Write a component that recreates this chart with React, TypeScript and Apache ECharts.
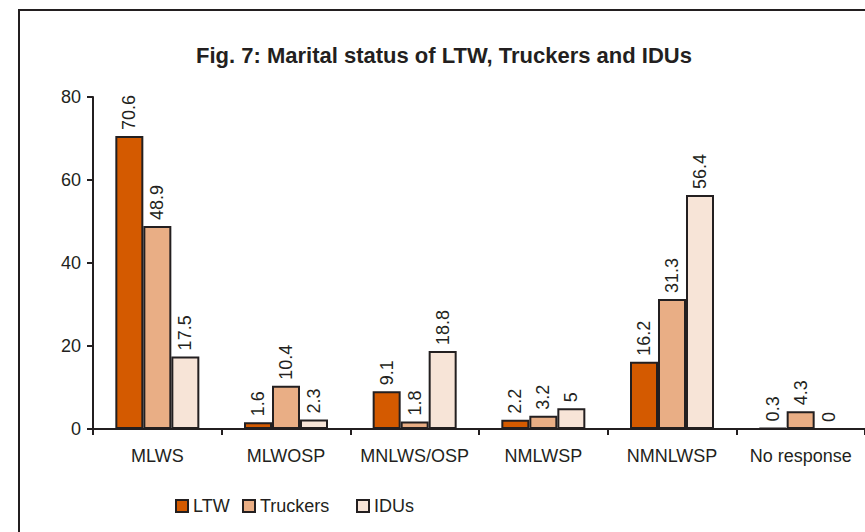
import React, { useEffect, useRef } from "react";
import * as echarts from "echarts";

const categories = ["MLWS", "MLWOSP", "MNLWS/OSP", "NMLWSP", "NMNLWSP", "No response"];
const ltw = [70.6, 1.6, 9.1, 2.2, 16.2, 0.3];
const truckers = [48.9, 10.4, 1.8, 3.2, 31.3, 4.3];
const idus = [17.5, 2.3, 18.8, 5, 56.4, 0];
const seriesNames = ["LTW", "Truckers", "IDUs"];
const colors = ["#d45a00", "#e9ae85", "#f7e4d7"];
const yTicks = [0, 20, 40, 60, 80];
const legendLefts = [175, 242, 356];

const FONT = "Liberation Sans, Arial, sans-serif";
const INK = "#231f20";

export default function App() {
  const ref = useRef<HTMLDivElement>(null);
  useEffect(() => {
    if (!ref.current) return;
    const chart = echarts.init(ref.current, null, { renderer: "svg" });
    const data = [ltw, truckers, idus];
    chart.setOption({
      animation: false,
      backgroundColor: "#fff",
      textStyle: { fontFamily: FONT, color: INK },
      title: {
        text: "Fig. 7: Marital status of LTW, Truckers and IDUs",
        left: 439,
        textAlign: "center",
        top: 39,
        textStyle: { fontFamily: FONT, fontSize: 22, fontWeight: "bold", color: INK },
      },
      graphic: [
        {
          type: "rect",
          shape: { x: 19, y: 10, width: 900, height: 600 },
          style: { fill: "none", stroke: INK, lineWidth: 2 },
          silent: true,
        },
      ],
      legend: seriesNames.map((name, i) => ({
        left: legendLefts[i],
        top: 497,
        padding: 0,
        itemWidth: 12,
        itemHeight: 12,
        icon: "rect",
        textStyle: { fontFamily: FONT, fontSize: 18, color: INK },
        data: [name],
      })),
      grid: { left: 93, right: -6, top: 97, bottom: 103, containLabel: false },
      xAxis: {
        type: "category",
        data: categories,
        axisLine: { lineStyle: { color: INK, width: 2 } },
        axisTick: { show: true, length: 6, lineStyle: { color: INK, width: 2 } },
        axisLabel: { fontFamily: FONT, fontSize: 18, color: INK, margin: 18, interval: 0, hideOverlap: false },
      },
      yAxis: {
        type: "value",
        min: 0,
        max: 80,
        interval: 20,
        splitLine: { show: false },
        axisLine: { show: true, lineStyle: { color: INK, width: 2 } },
        axisTick: { show: true, length: 6, lineStyle: { color: INK, width: 2 } },
        axisLabel: {
          fontFamily: FONT,
          fontSize: 18,
          color: INK,
          margin: 12,
          formatter: (v: number) => (yTicks.includes(v) ? String(v) : ""),
        },
      },
      series: seriesNames.map((name, i) => ({
        name,
        type: "bar",
        data: data[i],
        barWidth: 28,
        barGap: "0%",
        itemStyle: { color: colors[i], borderColor: INK, borderWidth: 2 },
        label: {
          show: true,
          position: "top",
          rotate: 90,
          align: "left",
          verticalAlign: "middle",
          distance: 6,
          fontFamily: FONT,
          fontSize: 18,
          color: INK,
        },
      })),
    });
    return () => chart.dispose();
  }, []);
  return <div ref={ref} style={{ width: 865, height: 532, position: "absolute", left: 0, top: 0 }} />;
}
